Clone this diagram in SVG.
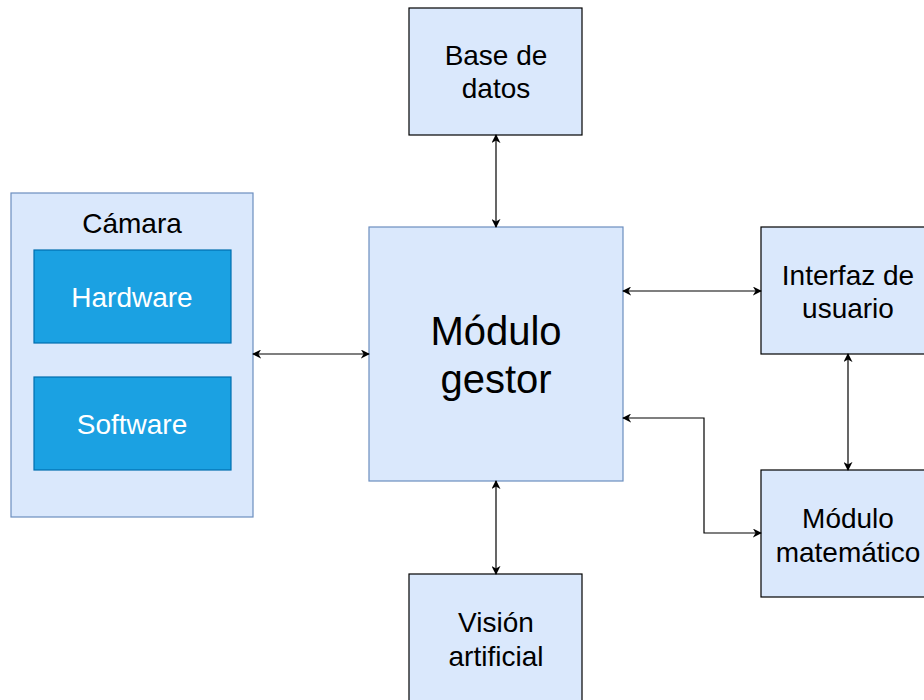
<svg xmlns="http://www.w3.org/2000/svg" width="924" height="700" viewBox="0 0 924 700">
<defs>
<marker id="arr" viewBox="0 0 10 10" refX="9" refY="5" markerWidth="9" markerHeight="9" orient="auto-start-reverse" markerUnits="userSpaceOnUse">
<path d="M0,0 L10,5 L0,10 L3,5 Z" fill="#000"/>
</marker>
<style>
.box{fill:#dae8fc;stroke:#000;stroke-width:1.2}
.boxb{fill:#dae8fc;stroke:#6c8ebf;stroke-width:1.2}
.sub{fill:#1ba1e2;stroke:#006eaf;stroke-width:1.2}
text{font-family:"Liberation Sans",Arial,sans-serif;text-anchor:middle;fill:#000}
.t{font-size:28px}
.w{fill:#fff}
.big{font-size:40px}
.edge{fill:none;stroke:#000;stroke-width:1.2;marker-start:url(#arr);marker-end:url(#arr)}
</style>
</defs>
<g id="camara">
<rect class="boxb" x="11" y="193" width="242" height="324"/>
<text class="t" x="132" y="233">Cámara</text>
</g>
<g id="hardware">
<rect class="sub" x="34" y="250" width="197" height="93"/>
<text class="t w" x="132" y="307">Hardware</text>
</g>
<g id="software">
<rect class="sub" x="34" y="377" width="197" height="93"/>
<text class="t w" x="132" y="434">Software</text>
</g>
<g id="gestor">
<rect class="boxb" x="369" y="227" width="254" height="254"/>
<text class="big" x="496" y="345">Módulo</text>
<text class="big" x="496" y="393">gestor</text>
</g>
<g id="basedatos">
<rect class="box" x="409" y="8" width="173" height="127"/>
<text class="t" x="496" y="65">Base de</text>
<text class="t" x="496" y="98">datos</text>
</g>
<g id="interfaz">
<rect class="box" x="761" y="227" width="173" height="127"/>
<text class="t" x="848" y="285">Interfaz de</text>
<text class="t" x="848" y="318">usuario</text>
</g>
<g id="matematico">
<rect class="box" x="761" y="470" width="173" height="127"/>
<text class="t" x="848" y="528">Módulo</text>
<text class="t" x="848" y="562">matemático</text>
</g>
<g id="vision">
<rect class="box" x="409" y="574" width="173" height="140"/>
<text class="t" x="496" y="632">Visión</text>
<text class="t" x="496" y="666">artificial</text>
</g>
<g id="connectors">
<path class="edge" d="M253,354 L369,354"/>
<path class="edge" d="M496,135 L496,227"/>
<path class="edge" d="M623,291 L761,291"/>
<path class="edge" d="M623,418 L704,418 L704,533 L761,533"/>
<path class="edge" d="M848,354 L848,470"/>
<path class="edge" d="M496,481 L496,574"/>
</g>
</svg>
